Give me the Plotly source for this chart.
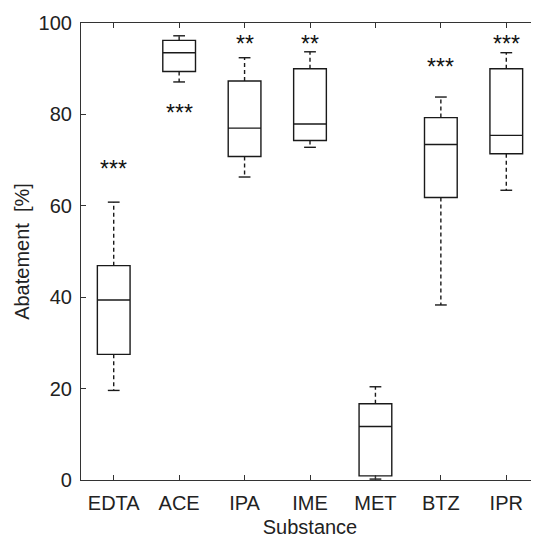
import plotly.graph_objects as go

categories = ["EDTA", "ACE", "IPA", "IME", "MET", "BTZ", "IPR"]
whisker_low = [19.6, 87.1, 66.3, 72.8, 0.2, 38.3, 63.4]
q1 = [27.5, 89.4, 70.8, 74.3, 0.9, 61.8, 71.4]
median = [39.4, 93.5, 77.0, 77.9, 11.7, 73.4, 75.4]
q3 = [46.9, 96.2, 87.3, 90.0, 16.7, 79.3, 90.0]
whisker_high = [60.8, 97.2, 92.4, 93.7, 20.4, 83.8, 93.5]
sig_labels = ["***", "***", "**", "**", "", "***", "***"]
sig_y = [68.0, 80.3, 95.4, 95.4, None, 90.3, 95.4]

xpos = list(range(1, len(categories) + 1))
LINE = "#1a1a1a"
FONT = "Liberation Sans, Arial, sans-serif"

fig = go.Figure()

for i, c in enumerate(categories):
    fig.add_trace(go.Box(
        x=[xpos[i]], q1=[q1[i]], median=[median[i]], q3=[q3[i]],
        lowerfence=[q1[i]], upperfence=[q3[i]],
        width=0.5, whiskerwidth=0, fillcolor="rgba(0,0,0,0)",
        line=dict(color=LINE, width=1.4), boxpoints=False,
        showlegend=False, hoverinfo="skip"))

# dashed whiskers
wx, wy = [], []
for i in range(len(categories)):
    wx += [xpos[i], xpos[i], None, xpos[i], xpos[i], None]
    wy += [q3[i], whisker_high[i], None, q1[i], whisker_low[i], None]
fig.add_trace(go.Scatter(x=wx, y=wy, mode="lines",
                         line=dict(color=LINE, width=1.4, dash="4px,3px"),
                         showlegend=False, hoverinfo="skip"))

# caps
cx, cy = [], []
cap = 0.09
for i in range(len(categories)):
    for v in (whisker_high[i], whisker_low[i]):
        cx += [xpos[i] - cap, xpos[i] + cap, None]
        cy += [v, v, None]
fig.add_trace(go.Scatter(x=cx, y=cy, mode="lines",
                         line=dict(color=LINE, width=1.4),
                         showlegend=False, hoverinfo="skip"))

for i, s in enumerate(sig_labels):
    if s:
        fig.add_annotation(x=xpos[i], y=sig_y[i], text=s, showarrow=False,
                           font=dict(family=FONT, size=23, color="#111"),
                           xanchor="center", yanchor="middle")

fig.update_layout(
    width=531, height=530,
    margin=dict(l=73, r=0, t=15, b=58),
    paper_bgcolor="white", plot_bgcolor="white",
    font=dict(family=FONT, size=20, color="#222"),
    xaxis=dict(range=[0.5, 7.5], tickvals=xpos, ticktext=categories,
               showline=True, mirror="ticks", linecolor="#333", linewidth=1.2,
               ticks="inside", ticklen=5, tickcolor="#333", showgrid=False,
               zeroline=False, automargin=False, ticklabelstandoff=5,
               title=dict(text="Substance", standoff=6, font=dict(size=20))),
    yaxis=dict(range=[0, 100], tickvals=[0, 20, 40, 60, 80, 100],
               showline=True, mirror="ticks", linecolor="#333", linewidth=1.2,
               ticks="inside", ticklen=5, tickcolor="#333", showgrid=False,
               zeroline=False, automargin=False, ticklabelstandoff=4,
               title=dict(text="Abatement\u00a0 [%]", standoff=3, font=dict(size=20))),
)

fig.write_html("out.html", config={"responsive": False})
